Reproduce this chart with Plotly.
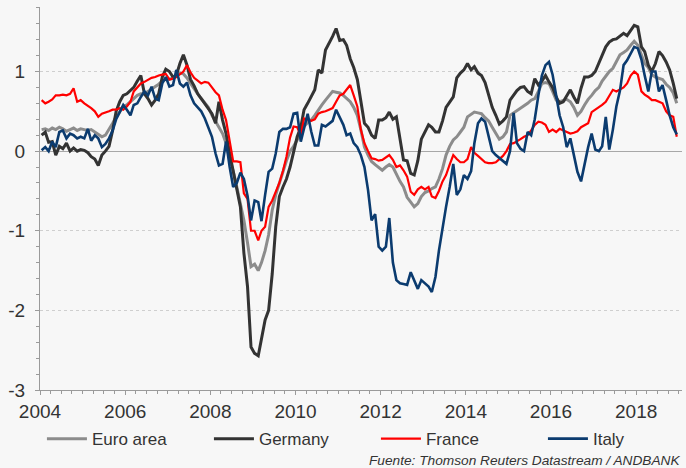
import plotly.graph_objects as go

# Monthly dates Jan 2004 - Dec 2018 (mid-month)
years = list(range(2004, 2019))
dates = [f"{y}-{m:02d}-15" for y in years for m in range(1, 13)]

euro_area = [
    0.27, 0.28, 0.26, 0.29, 0.27, 0.30, 0.28, 0.25, 0.27, 0.29, 0.26, 0.28,
    0.27, 0.26, 0.27, 0.24, 0.20, 0.18, 0.20, 0.27, 0.35, 0.43, 0.50, 0.56,
    0.58, 0.62, 0.66, 0.70, 0.72, 0.72, 0.75, 0.78, 0.80, 0.84, 0.88, 0.90,
    0.90, 0.92, 0.95, 0.98, 0.97, 0.92, 0.85, 0.78, 0.72, 0.66, 0.60, 0.55,
    0.45, 0.38, 0.30, 0.22, 0.10, -0.10, -0.25, -0.45, -0.65, -0.87, -1.15, -1.45,
    -1.42, -1.50, -1.40, -1.25, -1.05, -0.74, -0.55, -0.40, -0.25, -0.12, 0.00, 0.06,
    0.14, 0.22, 0.31, 0.36, 0.39, 0.45, 0.52, 0.58, 0.64, 0.70, 0.75, 0.74,
    0.73, 0.70, 0.66, 0.62, 0.55, 0.45, 0.27, 0.05, -0.05, -0.13, -0.17, -0.20,
    -0.24, -0.20, -0.17, -0.20, -0.30, -0.38, -0.45, -0.58, -0.64, -0.70, -0.66, -0.57,
    -0.52, -0.50, -0.47, -0.45, -0.35, -0.22, -0.05, 0.06, 0.14, 0.18, 0.24, 0.30,
    0.43, 0.46, 0.49, 0.48, 0.47, 0.42, 0.38, 0.30, 0.22, 0.15, 0.18, 0.24,
    0.45, 0.48, 0.51, 0.54, 0.57, 0.60, 0.64, 0.66, 0.75, 0.85, 0.86, 0.85,
    0.75, 0.64, 0.62, 0.64, 0.65, 0.62, 0.55, 0.45, 0.50, 0.58, 0.65, 0.70,
    0.76, 0.80, 0.88, 0.94, 1.00, 1.04, 1.12, 1.21, 1.24, 1.27, 1.33, 1.38,
    1.33, 1.21, 1.10, 1.05, 0.96, 0.93, 0.92, 0.90, 0.84, 0.80, 0.73, 0.60,
]

germany = [
    0.20, 0.24, 0.11, 0.12, -0.05, 0.06, 0.03, 0.10, 0.00, 0.04, 0.00, 0.02,
    0.01, -0.02, -0.07, -0.10, -0.18, -0.05, 0.00, 0.06, 0.26, 0.50, 0.62, 0.70,
    0.72, 0.76, 0.80, 0.88, 0.95, 0.72, 0.66, 0.58, 0.64, 0.72, 0.93, 1.03,
    1.00, 0.93, 0.95, 1.10, 1.21, 1.08, 0.90, 0.82, 0.72, 0.66, 0.60, 0.54,
    0.47, 0.35, 0.62, 0.39, 0.22, -0.03, -0.25, -0.50, -0.70, -1.28, -1.70, -2.46,
    -2.54, -2.57, -2.37, -2.12, -2.00, -1.54, -0.95, -0.57, -0.45, -0.35, -0.20, 0.00,
    0.18, 0.30, 0.52, 0.60, 0.68, 0.77, 1.02, 0.98, 1.27, 1.35, 1.44, 1.54,
    1.39, 1.40, 1.33, 1.16, 1.05, 0.90, 0.64, 0.35, 0.30, 0.20, 0.16, 0.39,
    0.39, 0.42, 0.49, 0.40, 0.43, 0.18, -0.11, -0.12, -0.28, -0.30, -0.12, 0.15,
    0.25, 0.33, 0.30, 0.24, 0.24, 0.38, 0.55, 0.62, 0.68, 0.92, 0.98, 1.02,
    1.10, 1.02, 1.06, 0.98, 0.95, 0.86, 0.70, 0.55, 0.45, 0.34, 0.38, 0.43,
    0.64, 0.70, 0.76, 0.80, 0.81, 0.75, 0.72, 0.91, 0.83, 0.88, 0.95, 0.87,
    0.80, 0.68, 0.60, 0.62, 0.70, 0.77, 0.68, 0.60, 0.79, 0.93, 0.93, 0.95,
    1.00, 1.10, 1.20, 1.31, 1.37, 1.40, 1.41, 1.45, 1.48, 1.45, 1.52, 1.58,
    1.56, 1.31, 1.25, 1.08, 1.00, 1.10, 1.25, 1.20, 1.12, 1.02, 0.85, 0.66,
]

france = [
    0.64, 0.60, 0.62, 0.65, 0.70, 0.70, 0.71, 0.70, 0.72, 0.79, 0.62, 0.64,
    0.60, 0.57, 0.54, 0.50, 0.43, 0.47, 0.48, 0.50, 0.52, 0.52, 0.54, 0.52,
    0.56, 0.62, 0.75, 0.80, 0.85, 0.87, 0.89, 0.92, 0.93, 0.95, 0.96, 0.97,
    0.90, 0.91, 0.93, 0.97, 1.00, 1.08, 0.99, 0.92, 0.88, 0.85, 0.87, 0.86,
    0.80, 0.74, 0.70, 0.52, 0.39, 0.14, -0.13, -0.13, -0.14, -0.53, -0.60, -1.00,
    -1.00, -1.12, -1.00, -0.95, -0.70, -0.62, -0.51, -0.40, -0.25, -0.07, 0.17, 0.31,
    0.30, 0.20, 0.41, 0.39, 0.38, 0.40, 0.47, 0.49, 0.50, 0.52, 0.54, 0.62,
    0.70, 0.72, 0.77, 0.83, 0.70, 0.56, 0.27, 0.10, 0.00, -0.09, -0.10, -0.12,
    -0.11, -0.08, -0.05, -0.11, -0.20, -0.18, -0.24, -0.32, -0.51, -0.55, -0.48, -0.45,
    -0.48, -0.45, -0.57, -0.59, -0.50, -0.38, -0.30, -0.17, -0.05, -0.10, -0.14, -0.14,
    -0.10, 0.05, -0.02, -0.06, -0.10, -0.14, -0.15, -0.15, -0.14, -0.10, -0.06, 0.00,
    0.09, 0.10, 0.12, 0.15, 0.18, 0.20, 0.26, 0.33, 0.37, 0.36, 0.33, 0.24,
    0.27, 0.24, 0.28, 0.26, 0.24, 0.22, 0.23, 0.25, 0.30, 0.33, 0.35, 0.49,
    0.52, 0.55, 0.58, 0.62, 0.70, 0.77, 0.75, 0.77, 0.80, 0.85, 0.95, 1.00,
    0.96, 0.75, 0.71, 0.68, 0.64, 0.64, 0.62, 0.60, 0.50, 0.45, 0.43, 0.18,
]

italy = [
    0.01, 0.05, 0.00, 0.12, 0.05, 0.24, 0.26, 0.16, 0.22, 0.20, 0.16, 0.18,
    0.16, 0.28, 0.13, 0.20, 0.16, 0.05, 0.09, 0.16, 0.26, 0.40, 0.49, 0.58,
    0.52, 0.45, 0.58, 0.60, 0.68, 0.75, 0.70, 0.81, 0.66, 0.64, 0.85, 0.93,
    0.81, 0.83, 1.02, 0.85, 0.81, 0.86, 0.70, 0.60, 0.55, 0.50, 0.41, 0.30,
    0.18, -0.03, -0.18, -0.16, 0.12, -0.20, -0.45, -0.40, -0.27, -0.35, -0.56, -0.87,
    -0.62, -0.64, -0.88, -0.55, -0.26, -0.22, -0.03, 0.24, 0.28, 0.28, 0.30, 0.47,
    0.48, 0.12, 0.28, 0.47, 0.25, 0.07, 0.07, 0.33, 0.31, 0.34, 0.38, 0.52,
    0.43, 0.33, 0.20, 0.22, 0.10, 0.05, -0.05, -0.20, -0.49, -0.87, -0.79, -1.20,
    -1.25, -1.20, -0.84, -1.40, -1.62, -1.66, -1.67, -1.68, -1.52, -1.62, -1.73, -1.62,
    -1.66, -1.70, -1.77, -1.58, -1.25, -0.95, -0.70, -0.45, -0.16, -0.55, -0.48, -0.30,
    -0.35, -0.25, 0.10, 0.35, 0.41, 0.37, 0.20, 0.00, -0.05, -0.09, -0.13, -0.16,
    0.00, 0.48, 0.10, 0.03, 0.00, 0.24, 0.20, 0.40, 0.70, 0.95, 1.08, 1.12,
    0.96, 0.70, 0.45, 0.30, 0.05, 0.16, -0.05, -0.26, -0.38, -0.15, 0.05, 0.22,
    0.02, 0.00, 0.06, 0.43, 0.02, 0.27, 0.56, 0.76, 1.08, 1.14, 1.23, 1.31,
    1.29, 1.15, 0.95, 0.75, 1.00, 1.00, 0.75, 0.83, 0.64, 0.45, 0.30, 0.21,
]

series_names = ["Euro area", "Germany", "France", "Italy"]
series_values = [euro_area, germany, france, italy]
series_colors = ["#8c8c8c", "#333333", "#ff0000", "#0b3b6f"]
series_widths = [3, 3, 2.2, 2.6]

y_tick_vals = [-3, -2, -1, 0, 1]
y_tick_text = ["-3", "-2", "-1", "0", "1"]
x_tick_vals = [f"{y}-01-01" for y in range(2004, 2019, 2)]
x_tick_text = [str(y) for y in range(2004, 2019, 2)]
source_text = "Fuente: Thomson Reuters Datastream / ANDBANK"

fig = go.Figure()
for name, vals, col, w in zip(series_names, series_values, series_colors, series_widths):
    fig.add_trace(go.Scatter(x=dates, y=vals, mode="lines", name=name,
                             line=dict(color=col, width=w)))

axis_col = "#9a9a9a"
font_col = "#333333"
fig.update_layout(
    width=686, height=468,
    margin=dict(l=40, r=4, t=7, b=78, autoexpand=False),
    paper_bgcolor="#f7f7f7", plot_bgcolor="#f7f7f7",
    font=dict(family="Liberation Sans, Arial, sans-serif", color=font_col),
    showlegend=True,
    legend=dict(orientation="h", x=-0.0001, xanchor="left", y=-0.076, yanchor="top",
                font=dict(size=17, color=font_col), bgcolor="rgba(0,0,0,0)",
                bordercolor="rgba(0,0,0,0)", borderwidth=2,
                entrywidth=112, entrywidthmode="pixels", itemwidth=40,
                traceorder="normal"),
    xaxis=dict(
        type="date", range=["2004-01-01", "2019-01-29"],
        tickvals=x_tick_vals, ticktext=x_tick_text,
        tickfont=dict(size=19, color=font_col),
        showline=True, linecolor=axis_col, linewidth=1,
        ticks="outside", ticklen=4, tickcolor=axis_col, tickwidth=1,
        showgrid=False, zeroline=False, automargin=False,
        minor=dict(dtick="M3", tick0="2004-01-01", ticks="outside", ticklen=3,
                   tickcolor=axis_col, showgrid=False),
        ticklabelstandoff=0,
    ),
    yaxis=dict(
        range=[-3, 1.81],
        tickvals=y_tick_vals, ticktext=y_tick_text,
        tickfont=dict(size=19, color=font_col),
        showline=True, linecolor=axis_col, linewidth=1,
        ticks="outside", ticklen=4, tickcolor=axis_col, tickwidth=1,
        showgrid=True, gridcolor="#cfcfcf", griddash="dot", gridwidth=1,
        zeroline=True, zerolinecolor="#a8a8a8", zerolinewidth=1, automargin=False,
        minor=dict(dtick=0.2, tick0=0, ticks="outside", ticklen=3,
                   tickcolor=axis_col, showgrid=False),
        ticklabelstandoff=6,
    ),
    annotations=[dict(text="<i>" + source_text + "</i>", xref="paper", yref="paper",
                      x=1.0, y=-0.159, xanchor="right", yanchor="top",
                      showarrow=False,
                      font=dict(size=13.7, color=font_col,
                                family="Liberation Sans, Arial, sans-serif"))],
)

# remove the browser's default 8px page margin so the figure fills the window
fig.write_html("out.html",
               config={"displayModeBar": False},
               post_script="document.body.style.margin='0';document.body.style.padding='0';")
